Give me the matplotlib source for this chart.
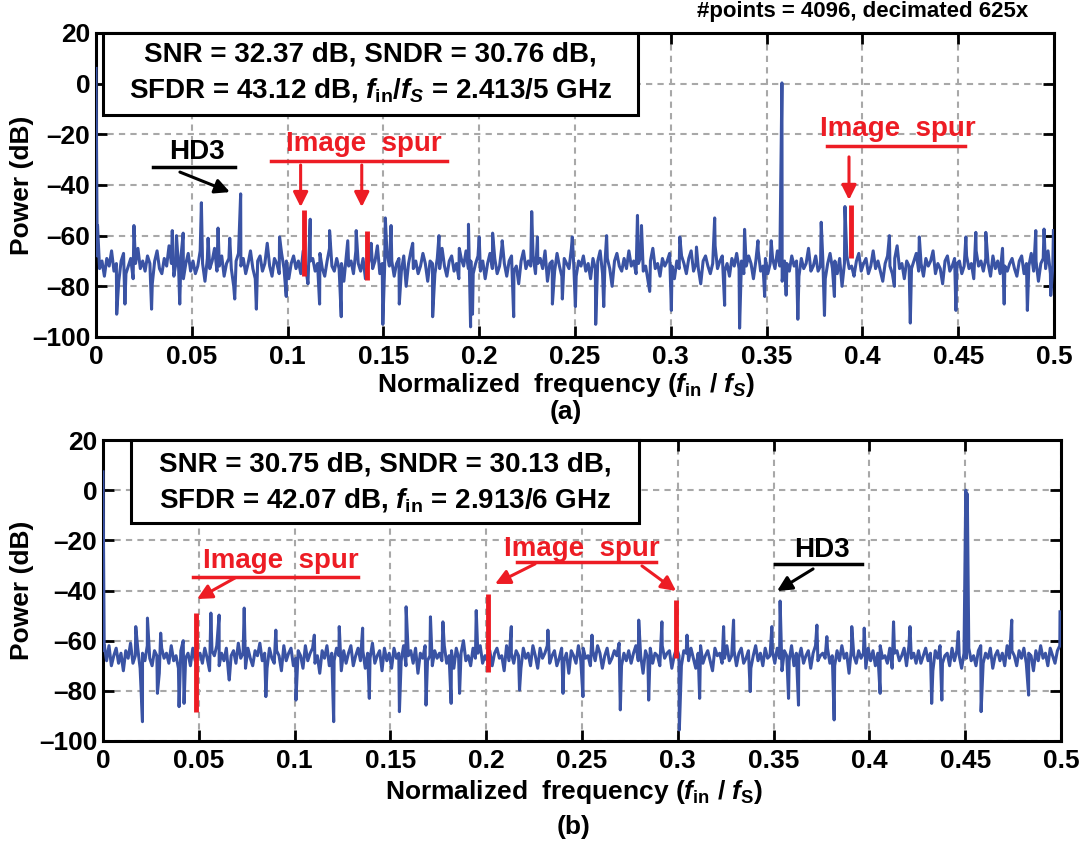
"""Two-panel output spectrum (FFT) of the ADC: (a) fs = 5 GHz, (b) fs = 6 GHz."""
import matplotlib
matplotlib.use("Agg")
import matplotlib.pyplot as plt
import matplotlib.patches as patches
import numpy as np

plt.rcParams["font.family"] = ["Liberation Sans", "DejaVu Sans"]
plt.rcParams["font.weight"] = "bold"
plt.rcParams["mathtext.fontset"] = "custom"
plt.rcParams["mathtext.rm"] = "Liberation Sans:bold"
plt.rcParams["mathtext.it"] = "Liberation Sans:italic:bold"
plt.rcParams["mathtext.bf"] = "Liberation Sans:bold"

BLUE = "#3A53A4"
RED = "#ED1C24"

# ---- panel (a): noise floor (dB) ----
floor_a = [
    -68, -73, -70, -76, -69, -72, -66, -74, -71, -78, -70, -67, -75, -72, -69, -77, -71, -65, -73, -70,
    -74, -68, -71, -79, -70, -66, -73, -75, -69, -72, -64, -71, -76, -70, -73, -68, -77, -71, -67, -74,
    -70, -75, -72, -66, -71, -78, -69, -73, -70, -65, -74, -72, -68, -76, -71, -69, -73, -80, -70, -67,
    -72, -69, -75, -71, -66, -73, -77, -70, -68, -74, -71, -63, -72, -76, -69, -71, -75, -67, -73, -70,
    -77, -71, -68, -73, -70, -75, -66, -72, -79, -70, -69, -74, -71, -67, -73, -76, -70, -65, -72, -74,
    -69, -73, -71, -78, -68, -72, -70, -75, -66, -71, -74, -69, -77, -72, -68, -73, -70, -64, -75, -71,
    -73, -67, -72, -70, -76, -71, -69, -74, -68, -80, -71, -66, -73, -70, -75, -72, -67, -71, -78, -70,
    -71, -75, -69, -73, -65, -72, -76, -70, -68, -74, -71, -77, -69, -72, -66, -73, -70, -75, -71, -68,
    -74, -70, -77, -71, -67, -73, -69, -75, -72, -64, -71, -76, -70, -68, -74, -72, -79, -70, -66, -73,
    -70, -72, -68, -75, -71, -69, -73, -66, -78, -71, -70, -74, -67, -72, -76, -69, -71, -73, -65, -72,
    -76, -70, -72, -68, -74, -71, -77, -69, -73, -70, -66, -75, -71, -69, -73, -80, -70, -67, -72, -74,
    -69, -73, -66, -72, -70, -75, -71, -68, -74, -72, -78, -70, -65, -73, -71, -76, -69, -72, -70, -67,
    -72, -77, -70, -73, -68, -71, -75, -69, -66, -74, -71, -73, -79, -70, -68, -72, -75, -71, -64, -73,
    -70, -68, -74, -71, -76, -69, -72, -67, -73, -70, -75, -72, -68, -71, -77, -70, -66, -74, -72, -69,
    -75, -71, -69, -73, -66, -72, -78, -70, -71, -74, -68, -72, -70, -76, -69, -73, -71, -65, -74, -72,
    -68, -74, -72, -70, -77, -71, -67, -73, -70, -75, -69, -80, -71, -68, -73, -72, -76, -70, -67, -74,
    -71, -69, -75, -72, -66, -73, -70, -74, -78, -71, -68, -72, -75, -69, -64, -73, -71, -77, -70, -72,
    -73, -70, -67, -74, -71, -76, -69, -72, -70, -66, -75, -71, -73, -79, -70, -68, -74, -72, -69, -71,
    -70, -75, -72, -68, -73, -71, -77, -66, -72, -70, -74, -69, -71, -76, -68, -73, -70, -75, -65, -72,
    -74, -71, -69, -73, -76, -70, -68, -75, -71, -72, -67, -74, -70, -78, -71, -69, -73, -66, -75, -72,
]
# spikes / dips and tones of panel (a): normalized frequency, power (dB)
peaks_a_f = [
    0.0, 0.0008, 0.0108, 0.0151, 0.0198, 0.029, 0.0398, 0.042, 0.0437, 0.0455,
    0.055, 0.0585, 0.0637, 0.0698, 0.0724, 0.0755, 0.0837, 0.0958, 0.0993, 0.1118,
    0.1167, 0.1219, 0.128, 0.1314, 0.1358, 0.1436, 0.1497, 0.151, 0.154, 0.1583,
    0.1653, 0.1757, 0.179, 0.1896, 0.1944, 0.1955, 0.1965, 0.2, 0.207, 0.212,
    0.218, 0.2274, 0.2304, 0.2382, 0.2434, 0.2486, 0.2502, 0.2608, 0.265, 0.2665,
    0.2826, 0.2847, 0.289, 0.3003, 0.3047, 0.3134, 0.3229, 0.3281, 0.3359, 0.3385,
    0.3455, 0.349, 0.3524, 0.358, 0.3602, 0.3663, 0.3785, 0.3802, 0.3854, 0.3909,
    0.3958, 0.4141, 0.4167, 0.425, 0.4297, 0.4488, 0.454, 0.4592, 0.4644, 0.474,
    0.4861, 0.4905, 0.4948, 0.4983, 0.4997,
]
peaks_a_db = [
    6.0, -56, -91, -87, -56, -89, -58, -60, -87, -59,
    -47, -61, -57, -61, -85, -43.5, -89, -60.5, -84, -53.5,
    -87, -58, -92, -62, -58, -63, -95, -53, -56, -87,
    -63, -92, -60, -65, -55.5, -96, -91, -60.5, -59, -62,
    -92, -50.5, -60.5, -87, -85, -60.5, -88, -95, -88, -60,
    -52, -56, -82, -89.5, -60.5, -64.5, -53, -87.5, -96.5, -57.5,
    -62, -84, -62, 0.3, -83.5, -93, -54.7, -91.5, -84, -48.5,
    -75, -60, -80, -94.5, -60.5, -89.5, -60.5, -58.7, -58.7, -87,
    -89.5, -58, -57.4, -83.6, -58,
]
image_a_f = [0.1083, 0.1413, 0.3939]
image_a_top = [-50, -58, -48]
image_a_bot = [-76, -77.5, -69]

# ---- panel (b) ----
floor_b = [
    -64, -68, -62, -70, -66, -63, -69, -65, -72, -64, -67, -61, -69, -66, -63, -71, -65, -68, -62, -67,
    -70, -64, -66, -73, -63, -67, -65, -69, -62, -68, -66, -71, -64, -60, -67, -65, -70, -63, -68, -66,
    -65, -69, -63, -67, -72, -64, -66, -62, -70, -65, -68, -63, -74, -66, -64, -69, -61, -67, -65, -71,
    -63, -67, -70, -64, -66, -61, -68, -65, -71, -63, -67, -69, -64, -66, -72, -62, -68, -65, -63, -70,
    -67, -64, -66, -71, -62, -68, -65, -63, -69, -66, -73, -64, -67, -62, -70, -65, -68, -63, -66, -72,
    -64, -69, -65, -62, -70, -66, -63, -68, -64, -71, -65, -67, -61, -69, -66, -64, -72, -63, -68, -65,
    -71, -63, -67, -65, -68, -62, -70, -66, -64, -69, -63, -73, -65, -67, -62, -68, -66, -70, -64, -67,
    -65, -68, -62, -69, -66, -64, -71, -63, -67, -65, -60, -68, -66, -70, -63, -67, -65, -62, -69, -66,
    -68, -64, -70, -65, -63, -67, -66, -72, -62, -68, -65, -69, -64, -66, -71, -63, -67, -65, -70, -62,
    -66, -71, -63, -67, -65, -62, -69, -66, -64, -70, -67, -63, -68, -65, -73, -64, -66, -69, -62, -68,
    -63, -67, -66, -70, -64, -68, -62, -65, -71, -66, -63, -69, -67, -64, -66, -61, -70, -65, -68, -64,
    -69, -65, -62, -68, -66, -73, -64, -67, -63, -69, -65, -66, -70, -62, -67, -65, -64, -71, -66, -63,
    -66, -70, -64, -65, -68, -63, -67, -71, -65, -62, -69, -66, -64, -68, -72, -63, -66, -65, -69, -67,
    -62, -68, -66, -64, -70, -65, -63, -69, -67, -64, -71, -66, -62, -68, -65, -70, -63, -67, -66, -64,
    -69, -63, -67, -72, -64, -66, -68, -62, -70, -65, -67, -63, -69, -66, -64, -71, -65, -62, -68, -66,
    -65, -67, -63, -69, -66, -70, -64, -68, -62, -67, -65, -73, -63, -66, -69, -64, -67, -65, -71, -63,
    -68, -64, -70, -65, -62, -67, -66, -69, -63, -71, -65, -64, -68, -66, -63, -70, -62, -67, -65, -69,
    -64, -69, -66, -63, -68, -65, -72, -64, -67, -62, -69, -66, -65, -70, -63, -68, -64, -66, -71, -65,
    -67, -63, -68, -66, -70, -64, -62, -69, -65, -67, -63, -71, -66, -64, -68, -65, -70, -62, -67, -64,
    -66, -70, -64, -67, -63, -69, -65, -66, -72, -64, -68, -62, -67, -65, -70, -63, -66, -69, -64, -62,
]
peaks_b_f = [
    0.0, 0.0007, 0.0171, 0.0206, 0.0232, 0.0284, 0.0301, 0.0397, 0.0423, 0.0563,
    0.0606, 0.0659, 0.0737, 0.085, 0.0902, 0.1007, 0.1103, 0.1204, 0.1233, 0.1355,
    0.139, 0.1547, 0.1582, 0.1686, 0.1709, 0.1774, 0.1817, 0.1861, 0.1948, 0.2131,
    0.2174, 0.2322, 0.2401, 0.2505, 0.2552, 0.27, 0.2796, 0.2848, 0.2917, 0.3008,
    0.3048, 0.3114, 0.3239, 0.3291, 0.3378, 0.3491, 0.3534, 0.3578, 0.363, 0.3726,
    0.3778, 0.3816, 0.3908, 0.3973, 0.4056, 0.4126, 0.4212, 0.4325, 0.4378, 0.4464,
    0.4503, 0.4511, 0.4583, 0.4743, 0.4831, 0.4995,
]
peaks_b_db = [
    7.3, -62, -54.4, -92.3, -51, -81, -57, -86.3, -85, -49,
    -49.8, -75.7, -47, -82.3, -55.8, -83.7, -57.8, -92.3, -54.4, -55,
    -83, -88.3, -46.5, -85.7, -50.5, -52.5, -85, -81, -48, -54.4,
    -79.7, -55.8, -81, -82.3, -57.8, -87.6, -51.8, -83.7, -52.5, -95.6,
    -57.8, -83, -54.4, -51.8, -80.3, -54.4, -44.2, -83, -85.7, -53.8,
    -58.4, -91.6, -54.4, -55, -81, -52.5, -54.4, -85, -83.7, -56.4,
    0.0, -1.5, -88.3, -51.8, -81.7, -48.5,
]
image_b_f = [0.0484, 0.2009, 0.2992]
image_b_top = [-49, -41.4, -43.6]
image_b_bot = [-88.3, -72.4, -67]

xticks = [0, 0.05, 0.1, 0.15, 0.2, 0.25, 0.3, 0.35, 0.4, 0.45, 0.5]
xtick_labels = ["0", "0.05", "0.1", "0.15", "0.2", "0.25", "0.3", "0.35", "0.4", "0.45", "0.5"]
yticks = [-100, -80, -60, -40, -20, 0, 20]

W, H = 1080, 841


def spectrum(floor, pf, pdb):
    n = len(floor)
    f_floor = (np.arange(n) + 0.5) * 0.5 / n  # FFT bin centres
    f = np.concatenate([f_floor, np.asarray(pf, float)])
    p = np.concatenate([np.asarray(floor, float), np.asarray(pdb, float)])
    order = np.argsort(f, kind="stable")
    return f[order], p[order]


def style_axes(ax):
    ax.set_xlim(0, 0.5)
    ax.set_ylim(-100, 20)
    ax.set_xticks(xticks)
    ax.set_xticklabels(xtick_labels)
    ax.set_yticks(yticks)
    ax.set_yticklabels([f"{v}".replace("-", "\u2013") for v in yticks])
    ax.tick_params(direction="in", length=8, width=2, labelsize=19,
                   top=True, right=True)
    ax.tick_params(axis="x", pad=6)
    ax.tick_params(axis="y", pad=4)
    for lab in ax.get_xticklabels() + ax.get_yticklabels():
        lab.set_fontweight("bold")
    for sp in ax.spines.values():
        sp.set_linewidth(2.2)
    ax.grid(True, ls=(0, (3, 2.5)), color="#A8A8A8", lw=1.5)
    ax.set_axisbelow(True)


def stats_box(ax, x0, x1, ybot, lines, ys):
    rect = patches.Rectangle((x0, ybot), x1 - x0, 1 - ybot, transform=ax.transAxes,
                             facecolor="white", edgecolor="black", lw=2.2, zorder=5,
                             clip_on=False)
    ax.add_patch(rect)
    for txt, y in zip(lines, ys):
        ax.text((x0 + x1) / 2, y, txt, transform=ax.transAxes, ha="center", va="center",
                fontsize=20, fontweight="bold", zorder=6)


def label(ax, text, xc, yc, ux0, ux1, uy, color):
    ax.text(xc, yc, text, ha="center", va="center", fontsize=20, fontweight="bold",
            color=color, zorder=6)
    ax.plot([ux0, ux1], [uy, uy], color=color, lw=2.5, zorder=6, clip_on=False)


def arrow(ax, tail, tip, color):
    ax.annotate("", xy=tip, xytext=tail,
                arrowprops=dict(arrowstyle="-|>", color=color, lw=2.2,
                                mutation_scale=22, shrinkA=0, shrinkB=0), zorder=6)


fig = plt.figure(figsize=(W / 100, H / 100), dpi=100)
ax_a = fig.add_axes([96 / W, 1 - 337 / H, 958 / W, 304 / H])
ax_b = fig.add_axes([103 / W, 1 - 741 / H, 958 / W, 301 / H])

# ---- (a) ----
fa, pa = spectrum(floor_a, peaks_a_f, peaks_a_db)
ax_a.plot(fa, pa, color=BLUE, lw=2.2, zorder=3)
for f, t, b in zip(image_a_f, image_a_top, image_a_bot):
    ax_a.plot([f, f], [b, t], color=RED, lw=3.5, solid_capstyle="butt", zorder=4)
style_axes(ax_a)
stats_box(ax_a, 0.0073, 0.566, 0.730,
          ["SNR = 32.37 dB, SNDR = 30.76 dB,",
           r"SFDR = 43.12 dB, $f_{\mathrm{in}}/f_S$ = 2.413/5 GHz"],
          [0.928, 0.8125])
label(ax_a, "HD3", 0.0527, -27.0, 0.0298, 0.0725, -32.9, "black")
arrow(ax_a, (0.0438, -34.9), (0.0699, -42.8), "black")
label(ax_a, "Image  spur", 0.1399, -23.8, 0.0913, 0.1832, -30.5, RED)
arrow(ax_a, (0.1068, -32.1), (0.1068, -48.7), RED)
arrow(ax_a, (0.1387, -32.1), (0.1387, -48.7), RED)
label(ax_a, "Image  spur", 0.4186, -17.9, 0.3815, 0.4536, -24.6, RED)
arrow(ax_a, (0.3930, -28.9), (0.3930, -45.9), RED)

fig.text(1028 / W, 1 - 12 / H, "#points = 4096, decimated 625x", ha="right", va="center",
         fontsize=16, fontweight="bold")
fig.text(566 / W, 1 - 385 / H, r"Normalized  frequency ($f_{\mathrm{in}}$ / $f_S$)",
         ha="center", va="center", fontsize=19, fontweight="bold")
fig.text(566 / W, 1 - 412 / H, "(a)", ha="center", va="center", fontsize=19, fontweight="bold")
fig.text(22 / W, 1 - 185 / H, "Power (dB)", rotation=90, ha="center", va="center",
         fontsize=19, fontweight="bold")

# ---- (b) ----
fb, pb = spectrum(floor_b, peaks_b_f, peaks_b_db)
ax_b.plot(fb, pb, color=BLUE, lw=2.2, zorder=3)
for f, t, b in zip(image_b_f, image_b_top, image_b_bot):
    ax_b.plot([f, f], [b, t], color=RED, lw=3.5, solid_capstyle="butt", zorder=4)
style_axes(ax_b)
stats_box(ax_b, 0.0292, 0.5595, 0.7243,
          ["SNR = 30.75 dB, SNDR = 30.13 dB,",
           r"SFDR = 42.07 dB, $f_{\mathrm{in}}$ = 2.913/6 GHz"],
          [0.917, 0.801])
label(ax_b, "Image  spur", 0.0929, -28.2, 0.0470, 0.1331, -34.6, RED)
arrow(ax_b, (0.0689, -35.0), (0.0491, -43.4), RED)
label(ax_b, "Image  spur", 0.2500, -23.5, 0.2161, 0.2886, -28.6, RED)
arrow(ax_b, (0.2255, -29.4), (0.2046, -37.4), RED)
arrow(ax_b, (0.2813, -30.2), (0.2991, -40.2), RED)
label(ax_b, "HD3", 0.3753, -23.9, 0.3507, 0.3961, -29.4, "black")
arrow(ax_b, (0.3706, -31.4), (0.3518, -40.2), "black")

fig.text(574 / W, 1 - 792 / H, r"Normalized  frequency ($f_{\mathrm{in}}$ / $f_{\mathrm{S}}$)",
         ha="center", va="center", fontsize=19, fontweight="bold")
fig.text(574 / W, 1 - 827 / H, "(b)", ha="center", va="center", fontsize=19, fontweight="bold")
fig.text(22 / W, 1 - 590 / H, "Power (dB)", rotation=90, ha="center", va="center",
         fontsize=19, fontweight="bold")

fig.savefig("out.png", dpi=100)
